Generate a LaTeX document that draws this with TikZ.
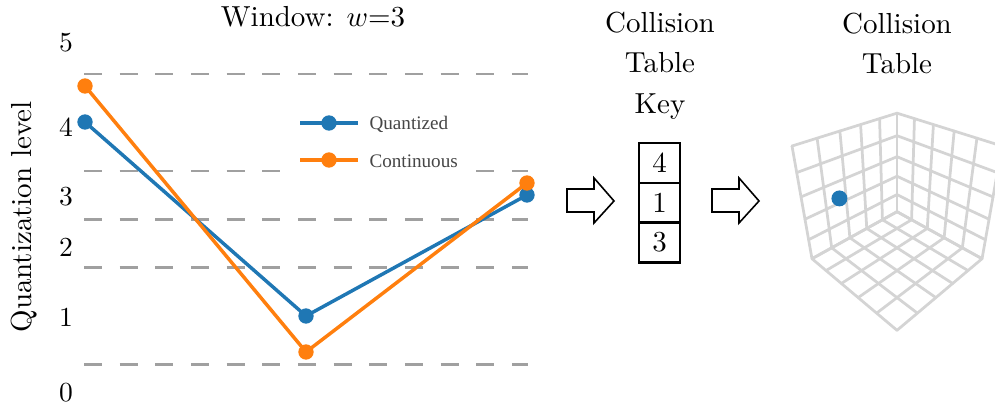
\documentclass[tikz,border=0pt]{standalone}
\usepackage{fontspec}
\newfontfamily\legendfont{Liberation Serif}
\definecolor{tabblue}{RGB}{31,119,180}
\definecolor{taborange}{RGB}{255,127,14}
\definecolor{dashgray}{RGB}{160,160,160}
\definecolor{gridgray}{RGB}{212,212,212}
\definecolor{legtext}{RGB}{70,70,70}
\begin{document}
\begin{tikzpicture}[x=0.345pt,y=-0.345pt,
  declare function={
    pqd(\pa,\pb,\pc)=((\pa-0.5)+(\pb-0.5))*0.5930+(\pc-0.5)*0.5446;
    ppf(\pa,\pb,\pc)=2.590/(2.590-pqd(\pa,\pb,\pc));
    cpx(\pa,\pb,\pc)=897+132.9*ppf(\pa,\pb,\pc)*(\pb-\pa)*0.7071;
    cpy(\pa,\pb,\pc)=208.3-132.9*ppf(\pa,\pb,\pc)*((\pc-0.5)*0.8387-((\pa-0.5)+(\pb-0.5))*0.3851);
  },
  lbl/.style={font=\fontsize{10}{12}\selectfont, inner sep=0pt},
  tick/.style={font=\fontsize{9.5}{11}\selectfont, inner sep=0pt},
  legtxt/.style={font=\legendfont\fontsize{6.6}{8}\selectfont, text=legtext, inner sep=0pt},
  level/.style={dashgray, line width=0.86pt, dash pattern=on 6.2pt off 6.1pt},
  qline/.style={tabblue, line width=1.2pt},
  cline/.style={taborange, line width=1.2pt},
  qdot/.style={circle, fill=tabblue, inner sep=0pt, minimum size=5.3pt},
  cdot/.style={circle, fill=taborange, inner sep=0pt, minimum size=5.3pt},
  keycell/.style={draw, line width=0.7pt, inner sep=0pt, minimum width=14.15pt, minimum height=13.8pt, font=\fontsize{10}{12}\selectfont},
  blockarrow/.style={draw, line width=0.55pt, fill=white, line join=miter},
  gridline/.style={gridgray, line width=0.95pt, line cap=round},
]
\useasboundingbox (0,0) rectangle (995,408);
\clip (0,0) rectangle (995,408);

% ---------- left plot ----------
\node[lbl, anchor=base] (title) at (313,27) {Window: $w$=3};
\node[lbl, anchor=base, rotate=90] (ylab) at (31,217) {Quantization level};
\node[tick] (t5) at (66,43) {5};
\node[tick] (t4) at (66,127) {4};
\node[tick] (t3) at (66,197) {3};
\node[tick] (t2) at (66,247) {2};
\node[tick] (t1) at (66,317) {1};
\node[tick] (t0) at (66,393) {0};

\foreach \yy in {74,171,219.3,267.7,364.7}
  \draw[level] (84,\yy) -- (528,\yy);

% legend box
\fill[white, rounded corners=1.6pt] (281,100) rectangle (476,173);

% data
\node[qdot] (q1) at (85,122) {};
\node[qdot] (q2) at (306,316) {};
\node[qdot] (q3) at (527,195) {};
\draw[qline] (q1.center) -- (q2.center) -- (q3.center);
\node[cdot] (c1) at (85,86) {};
\node[cdot] (c2) at (306,352) {};
\node[cdot] (c3) at (527,183) {};
\draw[cline] (c1.center) -- (c2.center) -- (c3.center);

% legend
\coordinate (lqa) at (300,123);
\coordinate (lqb) at (358,123);
\draw[qline] (lqa) -- (lqb);
\node[qdot] (lq) at (329,123) {};
\node[legtxt, anchor=base west] (lqt) at (369,130) {Quantized};
\coordinate (lca) at (300,160);
\coordinate (lcb) at (358,160);
\draw[cline] (lca) -- (lcb);
\node[cdot] (lc) at (329,160) {};
\node[legtxt, anchor=base west] (lct) at (369,168) {Continuous};

% ---------- arrows ----------
\foreach \dx in {0,145}
  \draw[blockarrow] ({567+\dx},189) -- ({594+\dx},189) -- ({594+\dx},178) -- ({614+\dx},201)
     -- ({594+\dx},223) -- ({594+\dx},212) -- ({567+\dx},212) -- cycle;

% ---------- key ----------
\node[lbl, anchor=base] (kt1) at (660,33) {Collision};
\node[lbl, anchor=base] (kt2) at (660,73) {Table};
\node[lbl, anchor=base] (kt3) at (660,114) {Key};
\node[keycell] (k1) at (659.5,163) {4};
\node[keycell] (k2) at (659.5,203) {1};
\node[keycell] (k3) at (659.5,242.5) {3};

% ---------- collision table ----------
\node[lbl, anchor=base] (ct1) at (897,34) {Collision};
\node[lbl, anchor=base] (ct2) at (897,74) {Table};
\foreach \i in {0,...,5}{
  \pgfmathsetmacro\k{\i/5}
  % left wall
  \draw[gridline] ({cpx(\k,0,0)},{cpy(\k,0,0)}) -- ({cpx(\k,0,1)},{cpy(\k,0,1)});
  \draw[gridline] ({cpx(0,0,\k)},{cpy(0,0,\k)}) -- ({cpx(1,0,\k)},{cpy(1,0,\k)});
  % right wall
  \draw[gridline] ({cpx(0,\k,0)},{cpy(0,\k,0)}) -- ({cpx(0,\k,1)},{cpy(0,\k,1)});
  \draw[gridline] ({cpx(0,0,\k)},{cpy(0,0,\k)}) -- ({cpx(0,1,\k)},{cpy(0,1,\k)});
  % floor
  \draw[gridline] ({cpx(\k,0,0)},{cpy(\k,0,0)}) -- ({cpx(\k,1,0)},{cpy(\k,1,0)});
  \draw[gridline] ({cpx(0,\k,0)},{cpy(0,\k,0)}) -- ({cpx(1,\k,0)},{cpy(1,\k,0)});
}
\node[circle, fill=tabblue, inner sep=0pt, minimum size=5.5pt] (pt) at ({cpx(0.8,0.2,0.6)},{cpy(0.8,0.2,0.6)+1.5}) {};
\end{tikzpicture}
\end{document}
